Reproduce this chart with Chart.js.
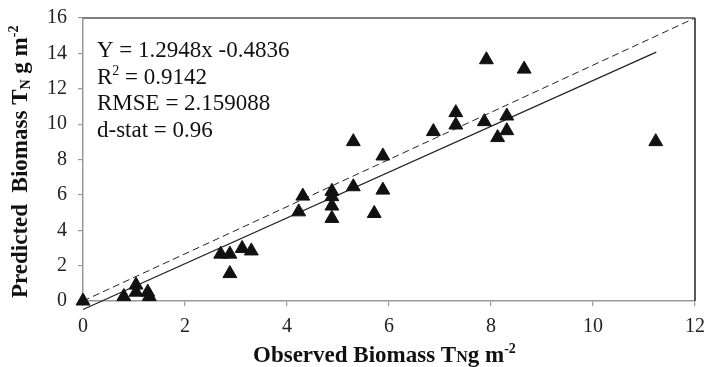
<!DOCTYPE html>
<html><head><meta charset="utf-8">
<script src="https://cdn.jsdelivr.net/npm/chart.js@4"></script>
<style>html,body{margin:0;padding:0;background:#fff}#wrap{width:708px;height:367px;position:relative}</style>
</head><body><div id="wrap"><canvas id="c" width="708" height="367"></canvas></div>
<script>
// Observed vs predicted biomass
const observed  = [0, 0.80, 1.04, 1.04, 1.27, 1.30, 2.70, 2.88, 2.88, 3.12, 3.30,
                   4.23, 4.31, 4.88, 4.88, 4.88, 4.88, 5.30, 5.30, 5.71, 5.88, 5.88,
                   6.87, 7.31, 7.31, 7.87, 7.91, 8.13, 8.31, 8.31, 8.65, 11.23];
const predicted = [0, 0.25, 0.90, 0.50, 0.50, 0.25, 2.65, 2.65, 1.55, 2.97, 2.83,
                   5.04, 5.93, 6.20, 5.90, 5.37, 4.67, 6.46, 9.01, 4.95, 6.27, 8.20,
                   9.58, 10.65, 9.95, 10.14, 13.64, 9.24, 10.46, 9.63, 13.11, 9.01];
const oneToOneX = [0, 12];
const oneToOneY = [0, 16];
const trendX = [0, 11.24];
const trendY = [-0.48, 14.07];
const xTicks = [0, 2, 4, 6, 8, 10, 12];
const yTicks = [0, 2, 4, 6, 8, 10, 12, 14, 16];
const statLines = [
  [['Y = 1.2948x -0.4836', '']],
  [['R', ''], ['2', 'sup'], [' = 0.9142', '']],
  [['RMSE = 2.159088', '']],
  [['d-stat = 0.96', '']]
];
const xTitle = [['Observed Biomass T', ''], ['N', 'small'], ['g m', ''], ['-2', 'sup']];
const yTitle = [['Predicted  Biomass T', ''], ['N', 'sub'], [' g m', ''], ['-2', 'sup']];

const SERIF = '"Liberation Serif", "Times New Roman", serif';

function drawRich(ctx, parts, x, y, size, bold) {
  const w = bold ? 'bold ' : '';
  let cx = x;
  for (const [t, kind] of parts) {
    let fs = size, dy = 0;
    if (kind === 'sup') { fs = Math.round(size * 0.62); dy = -size * 0.38; }
    if (kind === 'sub') { fs = Math.round(size * 0.62); dy = size * 0.12; }
    if (kind === 'small') { fs = Math.round(size * 0.7); }
    ctx.font = w + fs + 'px ' + SERIF;
    ctx.fillText(t, cx, y + dy);
    cx += ctx.measureText(t).width;
  }
  return cx - x;
}

const decor = {
  id: 'decor',
  afterDraw(chart) {
    const ctx = chart.ctx, a = chart.chartArea;
    ctx.save();
    ctx.lineWidth = 1.5;
    ctx.strokeStyle = '#555';
    ctx.beginPath(); ctx.moveTo(a.left, a.top); ctx.lineTo(a.right, a.top); ctx.stroke();
    ctx.strokeStyle = '#222';
    ctx.beginPath(); ctx.moveTo(a.right, a.top); ctx.lineTo(a.right, a.bottom); ctx.stroke();
    ctx.fillStyle = '#111';
    ctx.textBaseline = 'alphabetic';
    ctx.textAlign = 'left';
    statLines.forEach((ln, i) => drawRich(ctx, ln, 97, 57 + i * 26.7, 23, false));
    drawRich(ctx, xTitle, 253, 362, 23, true);
    ctx.translate(27, 298);
    ctx.rotate(-Math.PI / 2);
    drawRich(ctx, yTitle, 0, 0, 23, true);
    ctx.restore();
  }
};

new Chart(document.getElementById('c'), {
  type: 'scatter',
  data: {
    datasets: [
      {
        data: observed.map((x, i) => ({ x, y: predicted[i] })),
        pointStyle: 'triangle', pointRadius: 8, pointHoverRadius: 8,
        backgroundColor: '#111', borderColor: '#111', borderWidth: 1, showLine: false,
        clip: false
      },
      {
        data: oneToOneX.map((x, i) => ({ x, y: oneToOneY[i] })),
        showLine: true, pointRadius: 0, borderColor: '#222', borderWidth: 1,
        borderDash: [7, 4], fill: false
      },
      {
        data: trendX.map((x, i) => ({ x, y: trendY[i] })),
        showLine: true, pointRadius: 0, borderColor: '#222', borderWidth: 1.2,
        fill: false, clip: false
      }
    ]
  },
  options: {
    responsive: false, animation: false, devicePixelRatio: 1,
    layout: { padding: { top: 18, right: 13, left: 0, bottom: 0 } },
    plugins: { legend: { display: false }, tooltip: { enabled: false } },
    scales: {
      x: {
        type: 'linear', min: 0, max: 12,
        afterBuildTicks: s => { s.ticks = xTicks.map(v => ({ value: v })); },
        afterFit: s => { s.height = 66; s.paddingLeft = 0; s.paddingRight = 0; },
        ticks: { color: '#222', font: { family: SERIF, size: 20 }, padding: 9 },
        grid: { drawOnChartArea: false, drawTicks: true, tickLength: 5, color: '#999', lineWidth: 1.2 },
        border: { color: '#999', width: 1.5 }
      },
      y: {
        type: 'linear', min: 0, max: 16,
        afterBuildTicks: s => { s.ticks = yTicks.map(v => ({ value: v })); },
        afterFit: s => { s.width = 83; s.paddingTop = 0; s.paddingBottom = 0; },
        ticks: { color: '#222', font: { family: SERIF, size: 20 }, padding: 11 },
        grid: { drawOnChartArea: false, drawTicks: true, tickLength: 5, color: '#999', lineWidth: 1.2 },
        border: { color: '#999', width: 1.5 }
      }
    }
  },
  plugins: [decor]
});
</script>
</body></html>
